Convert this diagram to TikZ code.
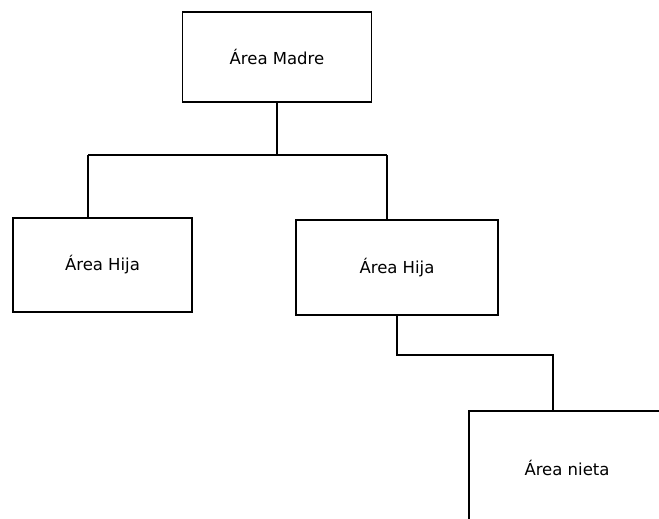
\documentclass[tikz,border=0pt]{standalone}
\usepackage{fontspec}
\setmainfont{DejaVu Sans}
\tikzset{
	area/.style={draw, line width=1.5pt, rectangle, inner sep=0pt, font=\fontsize{16.5}{19.5}\selectfont},
	link/.style={line width=1.5pt}
}

\begin{document}
\begin{tikzpicture}[x=1pt, y=-1pt]
			%%%%% START %%%%%
			
			\useasboundingbox (0, 0) rectangle (659, 519);
			\clip (0, 0) rectangle (659, 519);
			
			\node[area, minimum width=189pt, minimum height=90pt] (madre) at (277, 57) {Área Madre};
			
			\node[area, minimum width=179pt, minimum height=94pt] (hijaA) at (102.5, 265) {Área Hija};
			\node[area, minimum width=202pt, minimum height=95pt] (hijaB) at (397, 267.5) {Área Hija};
			
			\node[area, minimum width=196pt, minimum height=114pt] (nieta) at (567, 468) {Área nieta};
			
			\coordinate (busL) at (88, 155);
			\coordinate (busR) at (387, 155);
			\coordinate (knee) at (553, 355);
			
			\draw[link] (madre.south) -- (madre.south |- busL);
			\draw[link] (busL) -- (busR);
			\draw[link] (busL) -- (busL |- hijaA.north);
			\draw[link] (busR) -- (busR |- hijaB.north);
			
			\draw[link] (hijaB.south) |- (knee) -- (knee |- nieta.north);
			
			%%%%% END %%%%%
		\end{tikzpicture}
\end{document}
